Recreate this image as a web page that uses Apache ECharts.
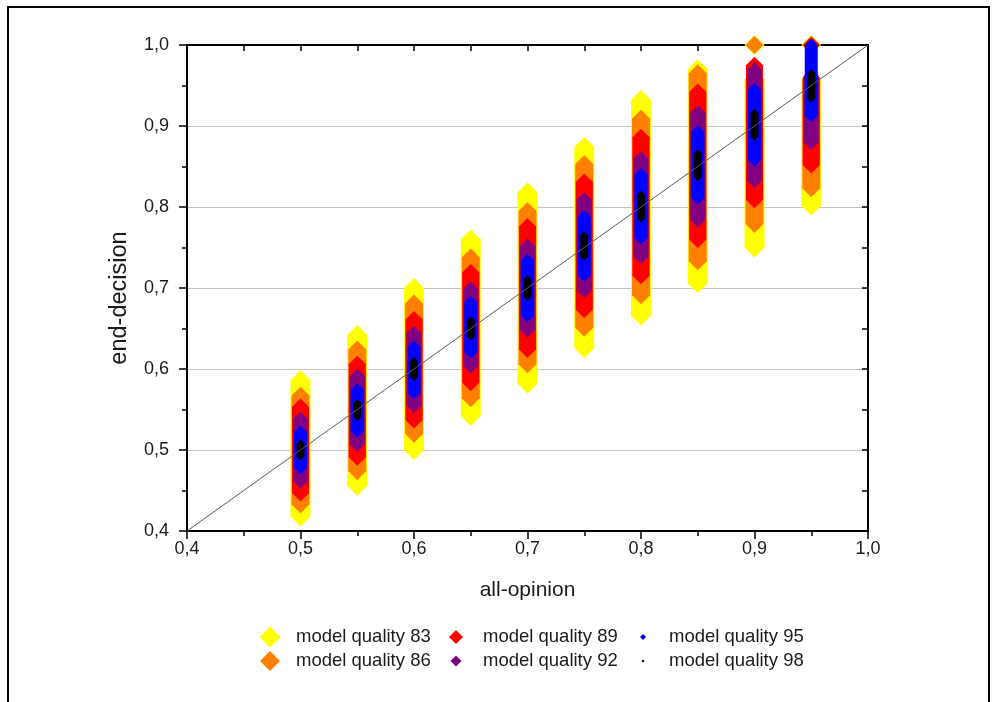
<!DOCTYPE html>
<html>
<head>
<meta charset="utf-8">
<script src="https://cdn.jsdelivr.net/npm/echarts@6/dist/echarts.min.js"></script>
<style>
html,body{margin:0;padding:0;background:#fff;}
#chart{width:995px;height:702px;}
</style>
</head>
<body>
<div id="chart"></div>
<script>
// ---- data ----
const xValues = [0.5, 0.55, 0.6, 0.65, 0.7, 0.75, 0.8, 0.85, 0.9, 0.95];

const q83Low  = [0.418, 0.456, 0.500, 0.542, 0.582, 0.626, 0.666, 0.706, 0.750, 0.802];
const q83High = [0.586, 0.642, 0.700, 0.760, 0.818, 0.874, 0.932, 0.970, 0.958, 0.958];
const q83Top  = [0.9, 0.95];

const q86Low  = [0.433, 0.474, 0.520, 0.564, 0.606, 0.651, 0.691, 0.733, 0.779, 0.823];
const q86High = [0.567, 0.624, 0.681, 0.738, 0.795, 0.853, 0.909, 0.965, 0.958, 0.958];
const q86Top  = [0.9, 0.95];

const q89Low  = [0.447, 0.491, 0.537, 0.583, 0.624, 0.673, 0.715, 0.760, 0.809, 0.852];
const q89High = [0.553, 0.606, 0.661, 0.719, 0.776, 0.831, 0.886, 0.942, 0.975, 0.960];
const q89Top  = [0.95];

const q92Low  = [0.462, 0.507, 0.555, 0.604, 0.648, 0.697, 0.739, 0.784, 0.833, 0.880];
const q92High = [0.538, 0.591, 0.644, 0.699, 0.752, 0.809, 0.860, 0.916, 0.969, 0.962];
const q92Top  = [];

const q95Low  = [0.478, 0.523, 0.571, 0.621, 0.666, 0.716, 0.762, 0.811, 0.858, 0.913];
const q95High = [0.522, 0.574, 0.627, 0.682, 0.734, 0.788, 0.840, 0.893, 0.945, 1.000];
const q95Top  = [];

const q98Low  = [0.492, 0.541, 0.590, 0.640, 0.689, 0.739, 0.786, 0.837, 0.887, 0.934];
const q98High = [0.508, 0.558, 0.610, 0.660, 0.711, 0.765, 0.815, 0.866, 0.916, 0.965];
const q98Top  = [];

const seriesNames = ['model quality 83', 'model quality 86', 'model quality 89',
                     'model quality 92', 'model quality 95', 'model quality 98'];
const diagonal = [[0.4, 0.4], [1.0, 1.0]];
const axisMin = 0.4, axisMax = 1.0;

// ---- build ----
function buildData(lows, highs, tops) {
  const d = xValues.map((x, i) => [x, lows[i], highs[i]]);
  tops.forEach(x => d.push([x, 1.0, 1.0]));
  return d;
}
const groups = [
  [q83Low, q83High, q83Top], [q86Low, q86High, q86Top], [q89Low, q89High, q89Top],
  [q92Low, q92High, q92Top], [q95Low, q95High, q95Top], [q98Low, q98High, q98Top]
];
const colors = ['#ffff00', '#ff8000', '#ff0000', '#800080', '#0000ff', '#000000'];
const halfSizes = [10, 9, 8.5, 7.5, 6.5, 4];

function makeRender(half) {
  return function (params, api) {
    const x = api.value(0), lo = api.value(1), hi = api.value(2);
    const pt = api.coord([x, hi]);
    const pb = api.coord([x, lo]);
    const cx = pt[0], t = pt[1], b = pb[1];
    return {
      type: 'polygon',
      shape: { points: [[cx, t - half], [cx + half, t], [cx + half, b], [cx, b + half], [cx - half, b], [cx - half, t]] },
      style: { fill: api.visual('color') }
    };
  };
}

const series = groups.map((g, i) => ({
  name: seriesNames[i],
  type: 'custom',
  renderItem: makeRender(halfSizes[i]),
  itemStyle: { color: colors[i] },
  encode: { x: 0, y: [1, 2] },
  data: buildData(g[0], g[1], g[2]),
  z: 2 + i,
  silent: true
}));
series.push({
  name: 'diag', type: 'line', data: diagonal, symbol: 'none', silent: true,
  lineStyle: { color: '#5a5a5a', width: 1 }, z: 20, xAxisIndex: 0, yAxisIndex: 0
});

const font = 'Liberation Sans, Arial, sans-serif';
const fmt = v => v.toFixed(1).replace('.', ',');

const legendLayout = [
  { cx: 270, cy: 637, w: 21 }, { cx: 270, cy: 661, w: 20 },
  { cx: 456, cy: 637, w: 14 }, { cx: 456, cy: 661, w: 11 },
  { cx: 643, cy: 637, w: 6 },  { cx: 643, cy: 661, w: 3 }
];
const textStarts = [296, 296, 483, 483, 669, 669];
const legends = legendLayout.map((l, i) => ({
  data: [{ name: seriesNames[i], icon: 'diamond' }],
  left: l.cx - l.w / 2,
  top: l.cy - 11,
  padding: 0,
  itemWidth: l.w,
  itemHeight: l.w,
  selectedMode: false,
  textStyle: {
    fontFamily: font, fontSize: 18.5, color: '#1a1a1a', lineHeight: 22,
    padding: [0, 0, 0, textStarts[i] - (l.cx + l.w / 2) - 5]
  }
}));

const tickLine = { color: '#000', width: 1.5 };
const option = {
  animation: false,
  backgroundColor: '#fff',
  grid: { left: 187, right: 127, top: 45, bottom: 171, containLabel: false },
  legend: legends,
  graphic: [{
    type: 'rect', shape: { x: 8, y: 7, width: 981, height: 720 },
    style: { fill: 'none', stroke: '#000', lineWidth: 2 }, silent: true
  }],
  xAxis: [{
    type: 'value', position: 'bottom', min: axisMin, max: axisMax, interval: 0.1,
    name: 'all-opinion', nameLocation: 'middle', nameGap: 49,
    nameTextStyle: { fontFamily: font, fontSize: 21, color: '#1a1a1a' },
    axisLine: { show: true, onZero: false, lineStyle: { color: '#000', width: 2 } },
    axisTick: { show: true, inside: false, length: 8, lineStyle: tickLine },
    minorTick: { show: true, splitNumber: 2, length: 5, lineStyle: tickLine },
    axisLabel: { formatter: fmt, fontFamily: font, fontSize: 18, color: '#1a1a1a', margin: 9 },
    splitLine: { show: false }
  }, {
    type: 'value', position: 'top', min: axisMin, max: axisMax, interval: 0.05,
    axisLine: { show: true, onZero: false, lineStyle: { color: '#000', width: 2 } },
    axisTick: { show: true, inside: true, length: 6, lineStyle: tickLine },
    axisLabel: { show: false }, splitLine: { show: false }
  }],
  yAxis: [{
    type: 'value', position: 'left', min: axisMin, max: axisMax, interval: 0.1,
    name: 'end-decision', nameLocation: 'middle', nameGap: 55, nameRotate: 90,
    nameTextStyle: { fontFamily: font, fontSize: 23.5, color: '#1a1a1a', padding: [0, 20, 0, 0] },
    axisLine: { show: true, onZero: false, lineStyle: { color: '#000', width: 2 } },
    axisTick: { show: true, inside: false, length: 8, lineStyle: tickLine },
    minorTick: { show: true, splitNumber: 2, length: 5, lineStyle: tickLine },
    axisLabel: { formatter: fmt, fontFamily: font, fontSize: 18, color: '#1a1a1a', margin: 18 },
    splitLine: { show: true, lineStyle: { color: '#c4c4c4', width: 1 } }
  }, {
    type: 'value', position: 'right', min: axisMin, max: axisMax, interval: 0.05,
    axisLine: { show: true, onZero: false, lineStyle: { color: '#000', width: 2 } },
    axisTick: { show: true, inside: true, length: 6, lineStyle: tickLine },
    axisLabel: { show: false }, splitLine: { show: false }
  }],
  series: series
};

const chart = echarts.init(document.getElementById('chart'), null, { renderer: 'canvas' });
chart.setOption(option);
</script>
</body>
</html>
